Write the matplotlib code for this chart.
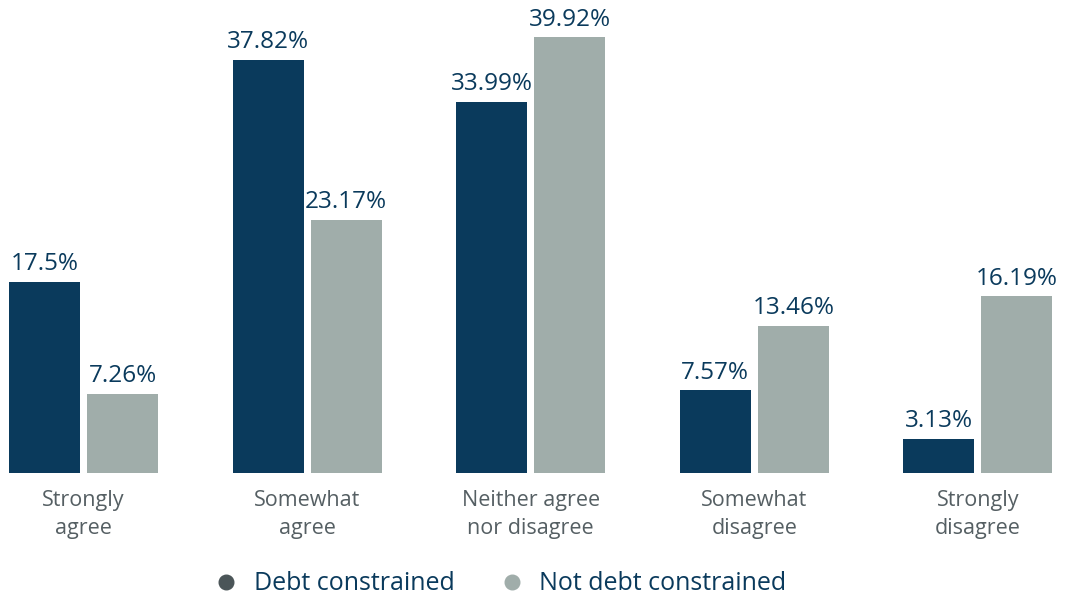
import matplotlib
matplotlib.use("Agg")
import matplotlib.pyplot as plt
import numpy as np
from matplotlib.lines import Line2D

categories = ["Strongly\nagree", "Somewhat\nagree", "Neither agree\nnor disagree",
              "Somewhat\ndisagree", "Strongly\ndisagree"]
debt_constrained = [17.5, 37.82, 33.99, 7.57, 3.13]
not_debt_constrained = [7.26, 23.17, 39.92, 13.46, 16.19]
series_names = ["Debt constrained", "Not debt constrained"]

NAVY = "#0a3a5c"
GRAY = "#a0adaa"
LEG_DARK = "#4b5558"
LABEL_GRAY = "#555f63"

plt.rcParams['font.family'] = ['Open Sans', 'DejaVu Sans']

W, H = 1065, 599
fig = plt.figure(figsize=(W/100, H/100), dpi=100)
base_px = 473
ax = fig.add_axes([0, (H-base_px)/H, 1, base_px/H])
px_per_unit = 223.6
c0 = 83.5
ax.set_xlim(-c0/px_per_unit, (W-c0)/px_per_unit)
ax.set_ylim(0, base_px/10.92)
ax.axis('off')

x = np.arange(len(categories))
bw = 71/px_per_unit
off = 39/px_per_unit
b1 = ax.bar(x-off, debt_constrained, bw, color=NAVY)
b2 = ax.bar(x+off, not_debt_constrained, bw, color=GRAY)

for bars, vals in ((b1, debt_constrained), (b2, not_debt_constrained)):
    for r, v in zip(bars, vals):
        ax.annotate(f"{v:g}%", (r.get_x()+r.get_width()/2, v), xytext=(0, 4),
                    textcoords="offset points", ha='center', va='bottom',
                    color=NAVY, fontsize=17.5)

for xi, c in zip(x, categories):
    ax.annotate(c, (xi, 0), xytext=(0, -12), textcoords="offset points",
                ha='center', va='top', color=LABEL_GRAY, fontsize=15.5,
                linespacing=1.45, annotation_clip=False)

handles = [Line2D([], [], marker='o', linestyle='', markersize=10.5, color=LEG_DARK),
           Line2D([], [], marker='o', linestyle='', markersize=10.5, color=GRAY)]
leg = fig.legend(handles, series_names, loc='center', bbox_to_anchor=(500/W, 1-584/H),
                 ncol=2, frameon=False, fontsize=18, handletextpad=0.6,
                 columnspacing=1.8, handlelength=1.0)
for t in leg.get_texts():
    t.set_color(NAVY)

fig.savefig("out.png", dpi=100)
